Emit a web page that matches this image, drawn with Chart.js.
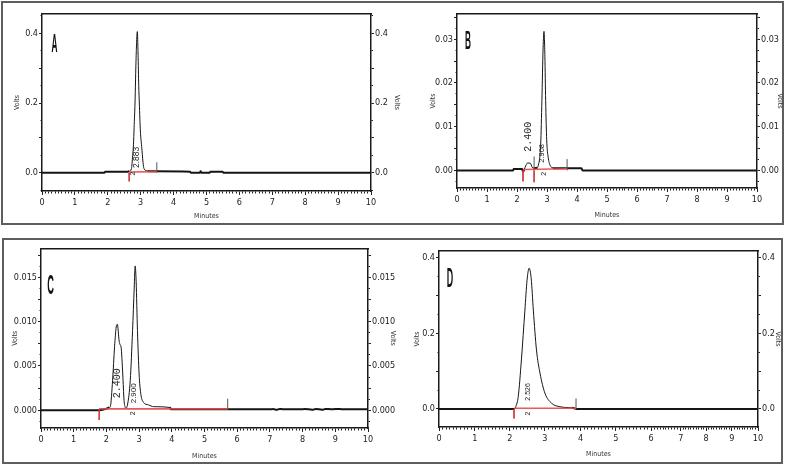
<!DOCTYPE html>
<html><head><meta charset="utf-8">
<script src="https://cdn.jsdelivr.net/npm/chart.js@4.4.1/dist/chart.umd.min.js"></script>
<style>
html,body{margin:0;padding:0;background:#fff;}
body{width:788px;height:466px;position:relative;overflow:hidden;}
.frame{position:absolute;box-sizing:border-box;border:2px solid #5e5e5e;}
canvas{position:absolute;}
</style></head><body>
<div class="frame" style="left:1px;top:1px;width:783px;height:224px;"></div>
<div class="frame" style="left:2px;top:238px;width:781px;height:226px;"></div>
<canvas id="cA" width="397" height="218" style="left:4px;top:4px"></canvas>
<canvas id="cB" width="384" height="218" style="left:400px;top:4px"></canvas>
<canvas id="cC" width="393" height="219" style="left:5px;top:242px"></canvas>
<canvas id="cD" width="384" height="218" style="left:398px;top:242px"></canvas>
<script>
// ---------------- DATA (minutes, volts) ----------------
// Panel A
const timeA  = [0, 1.9, 1.92, 2.6, 2.65, 2.72, 2.756, 2.78, 2.80, 2.827, 2.86, 2.897, 2.92, 2.94, 2.958, 2.99, 3.03, 3.07, 3.1, 3.2, 3.3, 4.5, 4.52, 4.8, 4.82, 4.85, 5.1, 5.12, 5.49, 5.51, 10];
const voltsA = [0, 0, 0.003, 0.003, 0.004, 0.012, 0.05, 0.08, 0.13, 0.2, 0.33, 0.405, 0.34, 0.25, 0.2, 0.12, 0.075, 0.03, 0.012, 0.005, 0.004, 0.003, 0, 0, 0.004, 0, 0, 0.003, 0.003, 0, 0];
const redBaseTimeA = [2.65, 3.49], redBaseVoltA = [0.002, 0.003];
const redMarkTimeA = [2.65], redMarkVoltA = [-0.025];
const blackMarkTimeA = [3.49], blackMarkVoltA = [0.03];
const peakTextA = ['2.883', '2'], peakTimeA = [2.89, 2.78], peakVoltA = [0.0135, -0.008];

// Panel B
const timeB  = [0, 1.87, 1.89, 2.17, 2.2, 2.24, 2.3, 2.35, 2.45, 2.5, 2.55, 2.68, 2.72, 2.76, 2.79, 2.83, 2.87, 2.90, 2.93, 2.955, 2.99, 3.04, 3.1, 3.2, 3.3, 4.15, 4.18, 10];
const voltsB = [0, 0, 0.0003, 0.0003, -0.0003, 0.0002, 0.0012, 0.0017, 0.0016, 0.0008, 0.0005, 0.0006, 0.0015, 0.003, 0.006, 0.016, 0.028, 0.0318, 0.026, 0.016, 0.007, 0.003, 0.0012, 0.0006, 0.0005, 0.0005, 0, 0];
const redBaseTimeB = [2.2, 3.67], redBaseVoltB = [0.0002, 0.0004];
const redMarkTimeB = [2.2, 2.57], redMarkVoltB = [-0.0025, -0.0027];
const blackMarkTimeB = [2.57, 3.67], blackMarkVoltB = [0.0032, 0.0026];
const peakTextB = ['2.400', '2.908', '2'], peakTimeB = [2.37, 2.82, 2.89], peakVoltB = [0.00427, 0.00176, -0.0012];

// Panel C
const timeC  = [0, 1.78, 1.98, 2.09, 2.12, 2.19, 2.25, 2.30, 2.335, 2.39, 2.42, 2.45, 2.50, 2.54, 2.57, 2.59, 2.65, 2.73, 2.80, 2.85, 2.88, 2.91, 2.95, 3.0, 3.05, 3.13, 3.29, 3.44, 3.95, 3.97, 7.05, 7.1, 7.2, 7.3, 7.4, 8.0, 8.05, 8.3, 8.4, 8.6, 8.7, 8.9, 9.1, 9.2, 10];
const voltsC = [0, 0, 0.00015, 0.0003, 0.0004, 0.0034, 0.0072, 0.0094, 0.0097, 0.0078, 0.0074, 0.0071, 0.0041, 0.0011, 0.0004, 0.0002, 0.0007, 0.0034, 0.009, 0.0138, 0.0163, 0.0145, 0.009, 0.0041, 0.0019, 0.0009, 0.0006, 0.0004, 0.0003, 0.0001, 0.0001, 0.00015, 0.00005, 0.00015, 0.0001, 0.0001, 0.00015, 0.00005, 0.00015, 0.00005, 0.00015, 0.0001, 0.00015, 0.0001, 0.0001];
const redBaseTimeC = [1.78, 5.71], redBaseVoltC = [0.00015, 0.00015];
const redMarkTimeC = [1.78], redMarkVoltC = [-0.0011];
const blackMarkTimeC = [5.71], blackMarkVoltC = [0.0013];
const peakTextC = ['2.400', '2.900', '2'], peakTimeC = [2.34, 2.85, 2.83], peakVoltC = [0.00134, 0.00078, -0.00056];

// Panel D
const timeD  = [0, 2.14, 2.17, 2.24, 2.33, 2.43, 2.49, 2.55, 2.61, 2.67, 2.76, 2.86, 3.0, 3.19, 3.42, 3.75, 3.85, 3.9, 10];
const voltsD = [0, 0, 0.006, 0.033, 0.13, 0.262, 0.34, 0.373, 0.345, 0.262, 0.156, 0.095, 0.042, 0.015, 0.006, 0.003, 0.001, 0, 0];
const redBaseTimeD = [2.12, 3.87], redBaseVoltD = [0.002, 0.002];
const redMarkTimeD = [2.12], redMarkVoltD = [-0.025];
const blackMarkTimeD = [3.87], blackMarkVoltD = [0.028];
const peakTextD = ['2.526', '2'], peakTimeD = [2.52, 2.52], peakVoltD = [0.022, -0.0172];

// Minutes axis of panel D is printed unevenly in the original (fraction of axis at each whole minute)
const minuteWarpD = [0, 0.1121, 0.2220, 0.3320, 0.4441, 0.5540, 0.6649, 0.7582, 0.8376, 0.9183, 1];

// ---------------- custom scale (piecewise linear) ----------------
class WarpScale extends Chart.LinearScale {
  getPixelForValue(v) {
    if (v === null || v === undefined) return NaN;
    const w = this.options.warp;
    if (!w) return super.getPixelForValue(v);
    const n = w.length - 1;
    const t = (v - this.min) / (this.max - this.min) * n;
    let i = Math.floor(t); i = Math.max(0, Math.min(n - 1, i));
    return this.getPixelForDecimal(w[i] + (w[i + 1] - w[i]) * (t - i));
  }
  getValueForPixel(p) {
    const w = this.options.warp;
    if (!w) return super.getValueForPixel(p);
    const f = this.getDecimalForPixel(p), n = w.length - 1;
    let i = 0; while (i < n - 1 && f > w[i + 1]) i++;
    const t = i + (f - w[i]) / (w[i + 1] - w[i]);
    return this.min + t / n * (this.max - this.min);
  }
}
WarpScale.id = 'warp';
Chart.register(WarpScale);

// ---------------- helpers ----------------
const NARROW = "'Liberation Sans Narrow','DejaVu Sans Condensed','Liberation Sans',sans-serif";
function series(xs, ys) { return xs.map((x, i) => ({x: x, y: ys[i]})); }
function marks(ts, vs) { const o = []; ts.forEach((t, i) => { o.push({x: t, y: 0}, {x: t, y: vs[i]}, {x: t, y: null}); }); return o; }
function near(v, s) { const r = Math.round(v / s); return Math.abs(v - r * s) < s * 1e-3; }
function grid(isMajor, tl, minor, outerFirst) {
  return {
    display: true, drawOnChartArea: false, drawTicks: true, tickLength: tl, tickWidth: 1, tickColor: '#222',
    tickBorderDash: c => (c.tick && isMajor(c.tick.value)) ? [] : [minor, tl - minor],
    tickBorderDashOffset: c => (c.tick && isMajor(c.tick.value)) ? 0 : (outerFirst ? minor : 0)
  };
}

function build(p) {
  const yTickCb = v => near(v, p.yLabel) ? (Math.round(v / p.yLabel) * p.yLabel).toFixed(p.yDec) : '';
  const yMajor = v => near(v, p.yMajor);
  const tickFont = {family: NARROW, size: 9};
  const titleFont = {family: NARROW, size: 7};
  const border = {display: true, color: '#1a1a1a', width: 1.5};
  const yCommon = (pos) => ({
    type: 'linear', position: pos, min: p.yMin, max: p.yMax,
    ticks: {stepSize: p.yStep, includeBounds: false, autoSkip: false, padding: 1, color: '#222', font: tickFont, callback: yTickCb},
    grid: grid(yMajor, 3, 1.5, pos === 'left'),
    border: border,
    title: {display: true, text: 'Volts', color: '#333', font: titleFont,
            padding: {top: pos === 'left' ? p.tp.l : p.tp.r, bottom: 0}},
    afterFit: s => { s.width = pos === 'left' ? p.box.l : p.box.r; }
  });
  const notes = {
    id: 'notes',
    afterDatasetsDraw(chart) {
      const ctx = chart.ctx, xs = chart.scales.x, ys = chart.scales.y, a = chart.chartArea;
      ctx.save();
      ctx.fillStyle = '#222';
      p.noteText.forEach((txt, i) => {
        ctx.save();
        ctx.translate(xs.getPixelForValue(p.noteTime[i]), ys.getPixelForValue(p.noteVolt[i]));
        ctx.rotate(-Math.PI / 2);
        ctx.font = p.noteFont[i];
        ctx.textAlign = 'left'; ctx.textBaseline = 'middle';
        ctx.fillText(txt, 0, 0);
        ctx.restore();
      });
      ctx.save();
      ctx.translate(a.left + p.letterX, a.top + p.letterY);
      ctx.scale(0.33, 1);
      ctx.font = 'bold ' + p.letterSize + 'px "Liberation Sans", sans-serif';
      ctx.textAlign = 'center'; ctx.textBaseline = 'alphabetic';
      ctx.fillStyle = '#111';
      ctx.fillText(p.letter, 0, 0);
      ctx.restore();
      ctx.restore();
    }
  };
  const thr = p.thr;
  new Chart(document.getElementById(p.canvas), {
    type: 'line',
    data: {datasets: [
      {data: series(p.redBaseT, p.redBaseV), borderColor: 'rgba(226,72,72,0.9)', borderWidth: 1.6, pointRadius: 0, tension: 0},
      {data: marks(p.redT, p.redV), borderColor: '#d43b3b', borderWidth: 1, pointRadius: 0, tension: 0, spanGaps: false},
      {data: marks(p.blackT, p.blackV), borderColor: '#555', borderWidth: 1, pointRadius: 0, tension: 0, spanGaps: false},
      {data: series(p.time, p.volts), borderColor: '#151515', borderWidth: 1, pointRadius: 0,
       cubicInterpolationMode: 'monotone',
       segment: {borderWidth: c => (Math.abs(c.p0.parsed.y) < thr && Math.abs(c.p1.parsed.y) < thr) ? 2 : 1}}
    ]},
    options: {
      responsive: false, animation: false, events: [],
      layout: {padding: 0},
      plugins: {legend: {display: false}, tooltip: {enabled: false}},
      scales: {
        x: {
          type: p.xType, warp: p.warp, position: 'bottom', min: 0, max: 10,
          ticks: {stepSize: 0.1, includeBounds: false, autoSkip: false, maxRotation: 0, minRotation: 0, padding: 2,
                  color: '#222', font: tickFont,
                  callback: v => near(v, 1) ? String(Math.round(v)) : ''},
          grid: grid(v => near(v, 1), 4, 2, false),
          border: border,
          title: {display: true, text: 'Minutes', color: '#333', font: titleFont, padding: {top: 0, bottom: p.tp.b}},
          afterFit: s => { s.height = p.box.b; }
        },
        xTop: {
          type: 'linear', position: 'top', min: 0, max: 10,
          ticks: {display: false}, grid: {display: false}, border: border,
          afterFit: s => { s.height = p.box.t; }
        },
        y: yCommon('left'),
        yRight: yCommon('right')
      }
    },
    plugins: [notes]
  });
}

build({canvas: 'cA', time: timeA, volts: voltsA, redBaseT: redBaseTimeA, redBaseV: redBaseVoltA,
  redT: redMarkTimeA, redV: redMarkVoltA, blackT: blackMarkTimeA, blackV: blackMarkVoltA,
  noteText: peakTextA, noteTime: peakTimeA, noteVolt: peakVoltA,
  noteFont: ['8.5px "Liberation Sans"', '7px "Liberation Sans"'],
  yMin: -0.0525, yMax: 0.4554, yStep: 0.05, yMajor: 0.1, yLabel: 0.2, yDec: 1,
  box: {l: 38, r: 30, t: 10, b: 31}, tp: {l: 8.8, r: 0.3, b: 1.3},
  letter: 'A', letterX: 12.5, letterY: 38, letterSize: 25, thr: 0.006, xType: 'linear'});

build({canvas: 'cB', time: timeB, volts: voltsB, redBaseT: redBaseTimeB, redBaseV: redBaseVoltB,
  redT: redMarkTimeB, redV: redMarkVoltB, blackT: blackMarkTimeB, blackV: blackMarkVoltB,
  noteText: peakTextB, noteTime: peakTimeB, noteVolt: peakVoltB,
  noteFont: ['10px "Liberation Mono"', '7.5px "Liberation Sans"', '7px "Liberation Sans"'],
  yMin: -0.00402, yMax: 0.03578, yStep: 0.0025, yMajor: 0.005, yLabel: 0.01, yDec: 2,
  box: {l: 57, r: 27, t: 10, b: 34}, tp: {l: 28.8, r: 0, b: 2.8},
  letter: 'B', letterX: 11, letterY: 35, letterSize: 25, thr: 0.0007, xType: 'linear'});

build({canvas: 'cC', time: timeC, volts: voltsC, redBaseT: redBaseTimeC, redBaseV: redBaseVoltC,
  redT: redMarkTimeC, redV: redMarkVoltC, blackT: blackMarkTimeC, blackV: blackMarkVoltC,
  noteText: peakTextC, noteTime: peakTimeC, noteVolt: peakVoltC,
  noteFont: ['10px "Liberation Mono"', '8px "Liberation Sans"', '7px "Liberation Sans"'],
  yMin: -0.00201, yMax: 0.01828, yStep: 0.00125, yMajor: 0.0025, yLabel: 0.005, yDec: 3,
  box: {l: 36, r: 30, t: 5, b: 33}, tp: {l: 5.8, r: 0.8, b: 0.3},
  letter: 'C', letterX: 9.5, letterY: 46, letterSize: 28, thr: 0.00035, xType: 'linear'});

build({canvas: 'cD', time: timeD, volts: voltsD, redBaseT: redBaseTimeD, redBaseV: redBaseVoltD,
  redT: redMarkTimeD, redV: redMarkVoltD, blackT: blackMarkTimeD, blackV: blackMarkVoltD,
  noteText: peakTextD, noteTime: peakTimeD, noteVolt: peakVoltD,
  noteFont: ['7px "Liberation Sans"', '7px "Liberation Sans"'],
  yMin: -0.0477, yMax: 0.4185, yStep: 0.05, yMajor: 0.1, yLabel: 0.2, yDec: 1,
  box: {l: 41, r: 24, t: 9, b: 33}, tp: {l: 14.8, r: 0, b: 1.8},
  letter: 'D', letterX: 11, letterY: 36, letterSize: 27, thr: 0.006, xType: 'warp', warp: minuteWarpD});
</script>
</body></html>
